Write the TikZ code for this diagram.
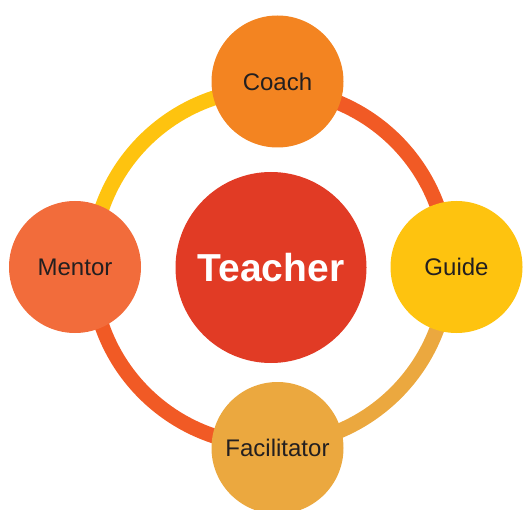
\documentclass[tikz,border=0pt]{standalone}
\usepackage{fontspec}
\setmainfont{Liberation Sans}
\definecolor{coachcol}{HTML}{F38421}
\definecolor{mentorcol}{HTML}{F26C3B}
\definecolor{teachercol}{HTML}{E13B25}
\definecolor{guidecol}{HTML}{FEC30F}
\definecolor{facilcol}{HTML}{EBA83F}
\definecolor{ringred}{HTML}{F15A25}
\definecolor{inktext}{HTML}{231F20}
\tikzset{
	bubble/.style={circle, minimum size=132pt, inner sep=0pt, text=inktext, font=\fontsize{24}{28}\selectfont},
	ringline/.style={line width=15pt}
}

\begin{document}
\begin{tikzpicture}[x=1pt, y=1pt]
		%%%%% START %%%%%
		\useasboundingbox (0, 0) rectangle (524, 509);
		\coordinate (ring) at (270, 242);
		
		% ring segments
		\draw[ringline, guidecol] (ring) ++(180:178pt) arc (180:90:178pt);
		\draw[ringline, ringred] (ring) ++(90:178pt) arc (90:0:178pt);
		\draw[ringline, facilcol] (ring) ++(0:178pt) arc (0:-90:178pt);
		\draw[ringline, ringred] (ring) ++(-90:178pt) arc (-90:-180:178pt);
		
		% circles
		\node[circle, fill=teachercol, minimum size=191pt, inner sep=0pt, text=white, font=\bfseries\fontsize{39}{44}\selectfont] (teacher) at (271, 241.5) {Teacher};
		\node[bubble, fill=coachcol] (coach) at (277.5, 427.5) {Coach};
		\node[bubble, fill=mentorcol] (mentor) at (75, 242) {Mentor};
		\node[bubble, fill=guidecol] (guide) at (456.5, 242) {Guide};
		\node[bubble, fill=facilcol] (facilitator) at (277.5, 61) {Facilitator};
		%%%%% END %%%%%
	\end{tikzpicture}
\end{document}
